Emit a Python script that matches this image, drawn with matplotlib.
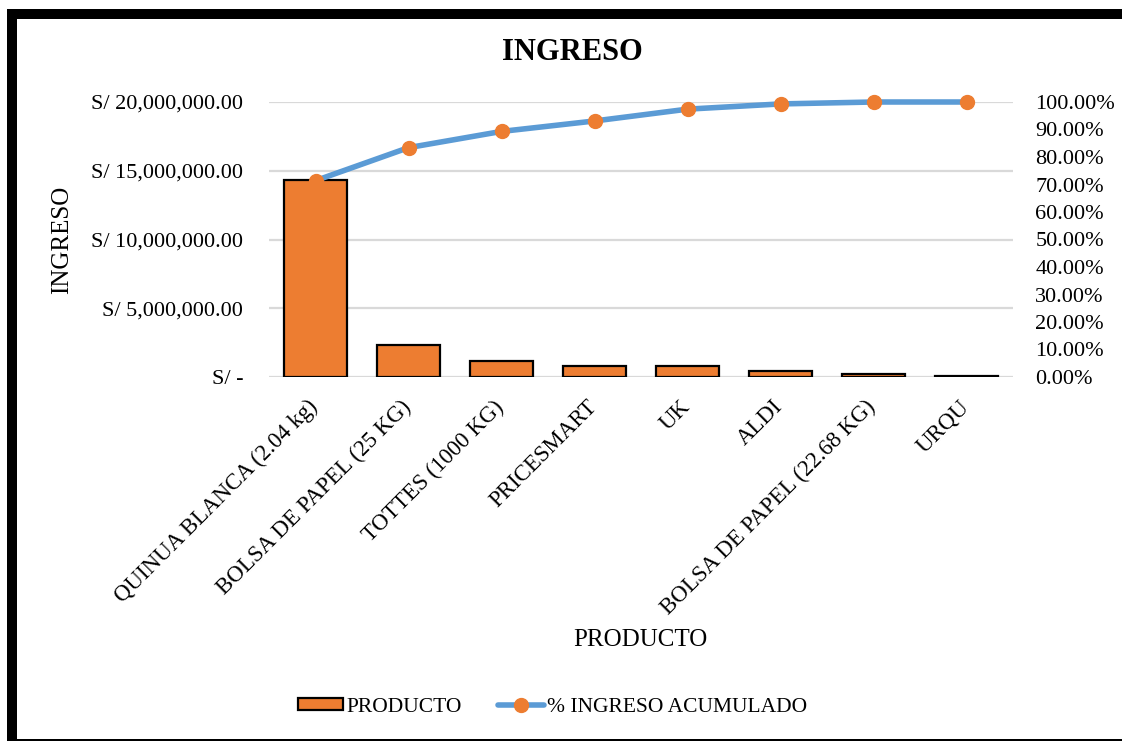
import matplotlib
matplotlib.use("Agg")
import matplotlib.pyplot as plt
from matplotlib.patches import Rectangle
from matplotlib.lines import Line2D
from matplotlib.ticker import FuncFormatter, MultipleLocator
from matplotlib.transforms import ScaledTranslation

plt.rcParams['font.family'] = ['Liberation Serif', 'DejaVu Serif']

# Data
productos = ["QUINUA BLANCA (2.04 kg)", "BOLSA DE PAPEL (25 KG)", "TOTTES (1000 KG)",
             "PRICESMART", "UK", "ALDI", "BOLSA DE PAPEL (22.68 KG)", "URQU"]
ingreso = [14300000, 2350000, 1170000, 810000, 820000, 410000, 220000, 60000]
pct_acumulado = [71.4, 83.4, 89.3, 93.1, 97.4, 99.3, 100.0, 100.0]

ORANGE = "#ED7D31"
BLUE = "#5B9BD5"
GRID = "#D9D9D9"

W, H = 1122, 741
fig = plt.figure(figsize=(W / 100, H / 100), dpi=100)

def fx(px):
    return px / W

def fy(py):
    return 1 - py / H

left, right, top, bottom = 269, 1013, 102, 377
ax = fig.add_axes([fx(left), fy(bottom), fx(right - left), (bottom - top) / H])

x = list(range(len(productos)))
ax.bar(x, ingreso, width=0.68, color=ORANGE, edgecolor="black", linewidth=1.6, zorder=3)
ax.set_xlim(-0.5, len(productos) - 0.5)
ax.set_ylim(0, 20000000)
ax.yaxis.set_major_locator(MultipleLocator(5000000))

def soles(v, pos):
    if v == 0:
        return "S/ -"
    return "S/ {:,.2f}".format(v)

ax.yaxis.set_major_formatter(FuncFormatter(soles))
ax.grid(axis="y", color=GRID, linewidth=1.6, zorder=0)
ax.set_axisbelow(True)
for s in ax.spines.values():
    s.set_visible(False)
ax.tick_params(axis="y", length=0, pad=18.5, labelsize=16)
ax.tick_params(axis="x", length=0, pad=4)
ax.set_xticks(x)
ax.set_xticklabels(productos, rotation=45, ha="right", va="top",
                   rotation_mode="anchor", fontsize=16.5)
shift = ScaledTranslation(-6 / 72, -10 / 72, fig.dpi_scale_trans)
for lab in ax.get_xticklabels():
    lab.set_transform(lab.get_transform() + shift)

ax2 = ax.twinx()
ax2.plot(x, pct_acumulado, color=BLUE, linewidth=4, marker="o", markersize=10,
         markerfacecolor=ORANGE, markeredgecolor=ORANGE, clip_on=False, zorder=4,
         solid_capstyle="round")
ax2.set_ylim(0, 100)
ax2.yaxis.set_major_locator(MultipleLocator(10))
ax2.yaxis.set_major_formatter(FuncFormatter(lambda v, p: "{:.2f}%".format(v)))
ax2.tick_params(axis="y", length=0, pad=16, labelsize=16)
for s in ax2.spines.values():
    s.set_visible(False)

fig.text(fx(62), fy(240), "INGRESO", fontsize=18, rotation=90, ha="center", va="center")
fig.text(fx(572), fy(52), "INGRESO", fontsize=22, fontweight="bold", ha="center", va="center")
fig.text(fx(640), fy(640), "PRODUCTO", fontsize=18, ha="center", va="center")

handles = [
    Rectangle((0, 0), 1, 1, facecolor=ORANGE, edgecolor="black", linewidth=1.6),
    Line2D([0], [0], color=BLUE, linewidth=4, marker="o", markersize=10,
           markerfacecolor=ORANGE, markeredgecolor=ORANGE, solid_capstyle="round"),
]
fig.legend(handles, ["PRODUCTO", "% INGRESO ACUMULADO"], loc="center left",
           bbox_to_anchor=(fx(298), fy(707)), ncol=2, frameon=False, fontsize=15.5,
           borderpad=0, borderaxespad=0,
           handlelength=2.1, handleheight=0.5, handletextpad=0.15, columnspacing=1.7)

# Frame around the chart area
fig.add_artist(Rectangle((fx(7), 0), fx(10), fy(9), transform=fig.transFigure,
                         facecolor="black", edgecolor="none"))
fig.add_artist(Rectangle((fx(7), fy(19)), 1 - fx(7), 10 / H, transform=fig.transFigure,
                         facecolor="black", edgecolor="none"))
fig.add_artist(Rectangle((fx(7), 0), 1 - fx(7), 2 / H, transform=fig.transFigure,
                         facecolor="black", edgecolor="none"))

fig.savefig("out.png", dpi=100)
